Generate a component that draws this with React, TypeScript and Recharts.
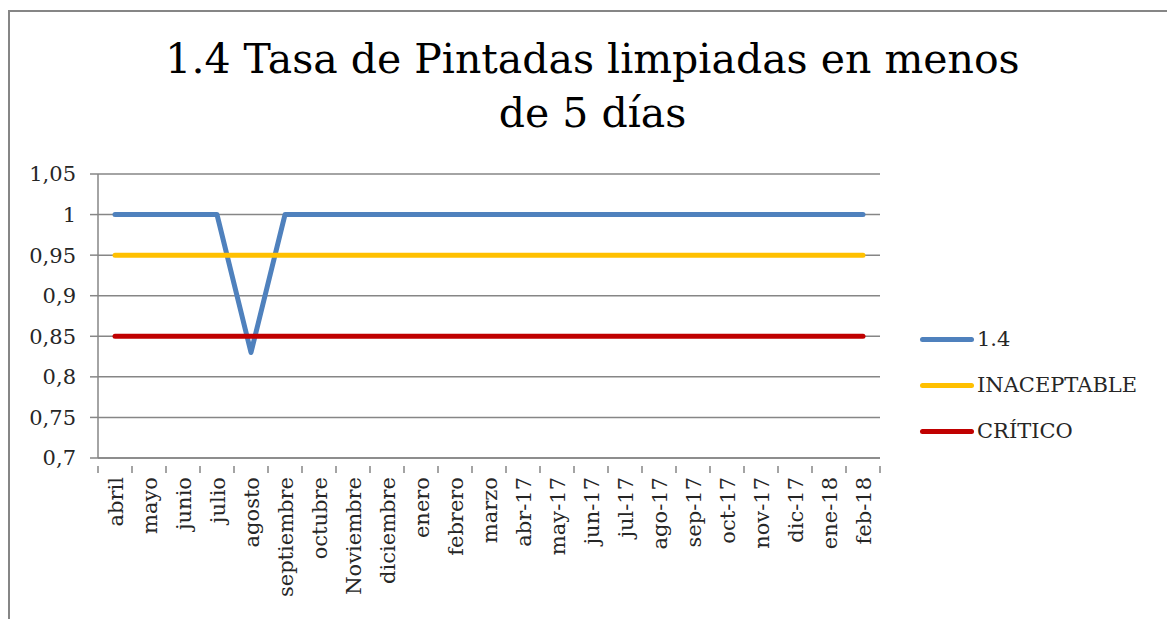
import React from 'react';
import { LineChart, Line, XAxis, YAxis, CartesianGrid } from 'recharts';

const months = [
  'abril', 'mayo', 'junio', 'julio', 'agosto', 'septiembre', 'octubre', 'Noviembre',
  'diciembre', 'enero', 'febrero', 'marzo', 'abr-17', 'may-17', 'jun-17', 'jul-17',
  'ago-17', 'sep-17', 'oct-17', 'nov-17', 'dic-17', 'ene-18', 'feb-18',
];
const tasa = [1, 1, 1, 1, 0.83, 1, 1, 1, 1, 1, 1, 1, 1, 1, 1, 1, 1, 1, 1, 1, 1, 1, 1];
const inaceptable = [0.95, 0.95, 0.95, 0.95, 0.95, 0.95, 0.95, 0.95, 0.95, 0.95, 0.95, 0.95, 0.95, 0.95, 0.95, 0.95, 0.95, 0.95, 0.95, 0.95, 0.95, 0.95, 0.95];
const critico = [0.85, 0.85, 0.85, 0.85, 0.85, 0.85, 0.85, 0.85, 0.85, 0.85, 0.85, 0.85, 0.85, 0.85, 0.85, 0.85, 0.85, 0.85, 0.85, 0.85, 0.85, 0.85, 0.85];
const yTicks = [0.7, 0.75, 0.8, 0.85, 0.9, 0.95, 1, 1.05];

const data = months.map((m, i) => ({
  name: m,
  tasa: tasa[i],
  inaceptable: inaceptable[i],
  critico: critico[i],
}));

const FONT = '"DejaVu Serif", serif';
const GRID = '#868686';
const W = 1167;
const H = 619;
const M = { top: 174, right: 287, bottom: 11, left: 38 };
const Y_W = 60;
const PLOT_W = W - M.left - M.right - Y_W;
const BAND = PLOT_W / months.length;

const series = [
  { key: 'tasa', name: '1.4', color: '#4F81BD' },
  { key: 'inaceptable', name: 'INACEPTABLE', color: '#FFC000' },
  { key: 'critico', name: 'CRÍTICO', color: '#C00000' },
];

const MonthTick = (props: any) => {
  const { x, y, payload, index } = props;
  const last = index === months.length - 1;
  return (
    <g>
      <line x1={x - BAND / 2} y1={y} x2={x - BAND / 2} y2={y + 7} stroke={GRID} strokeWidth={1.5} />
      {last && <line x1={x + BAND / 2} y1={y} x2={x + BAND / 2} y2={y + 7} stroke={GRID} strokeWidth={1.5} />}
      <text
        transform={`translate(${x + 8},${y + 11}) rotate(-90)`}
        textAnchor="end"
        fontFamily={FONT}
        fontSize={21}
        fill="#262626"
      >
        {payload.value}
      </text>
    </g>
  );
};

export default function App() {
  return (
    <div style={{ position: 'fixed', left: 0, top: 0, width: W, height: H, overflow: 'hidden', background: '#fff' }}>
      <div
        style={{
          position: 'absolute', left: 8, top: 10, width: W, height: H,
          borderLeft: `2px solid ${GRID}`, borderTop: `2px solid ${GRID}`,
        }}
      />
      <div
        style={{
          position: 'absolute', left: 0, top: 32, width: 1185, textAlign: 'center',
          fontFamily: FONT, fontSize: 41, lineHeight: '54px', color: '#000',
        }}
      >
        1.4 Tasa de Pintadas limpiadas en menos
        <br />
        de 5 días
      </div>
      <div style={{ position: 'absolute', left: 0, top: 0 }}>
        <LineChart width={W} height={H} data={data} margin={M}>
          <CartesianGrid horizontal vertical={false} stroke={GRID} strokeWidth={1.5} />
          <XAxis
            dataKey="name"
            interval={0}
            height={150}
            padding={{ left: BAND / 2, right: BAND / 2 }}
            tickLine={false}
            axisLine={{ stroke: GRID, strokeWidth: 1.5 }}
            tick={<MonthTick />}
          />
          <YAxis
            width={Y_W}
            domain={[0.7, 1.05]}
            ticks={yTicks}
            interval={0}
            tickSize={8}
            tickLine={{ stroke: GRID, strokeWidth: 1.5 }}
            axisLine={{ stroke: GRID, strokeWidth: 1.5 }}
            tickFormatter={(v: number) => String(Number(v.toFixed(2))).replace('.', ',')}
            tick={{ fontFamily: FONT, fontSize: 21, fill: '#262626', dx: -12 }}
          />
          {series.map((s) => (
            <Line
              key={s.key}
              dataKey={s.key}
              name={s.name}
              type="linear"
              stroke={s.color}
              strokeWidth={5}
              strokeLinecap="round"
              strokeLinejoin="round"
              dot={false}
              activeDot={false}
              isAnimationActive={false}
            />
          ))}
        </LineChart>
      </div>
      <div style={{ position: 'absolute', left: 920, top: 316, fontFamily: FONT, fontSize: 21, color: '#262626' }}>
        {series.map((s) => (
          <div key={s.key} style={{ display: 'flex', alignItems: 'center', height: 46 }}>
            <div style={{ width: 54, height: 5, borderRadius: 3, background: s.color, marginRight: 3 }} />
            <span>{s.name}</span>
          </div>
        ))}
      </div>
    </div>
  );
}
